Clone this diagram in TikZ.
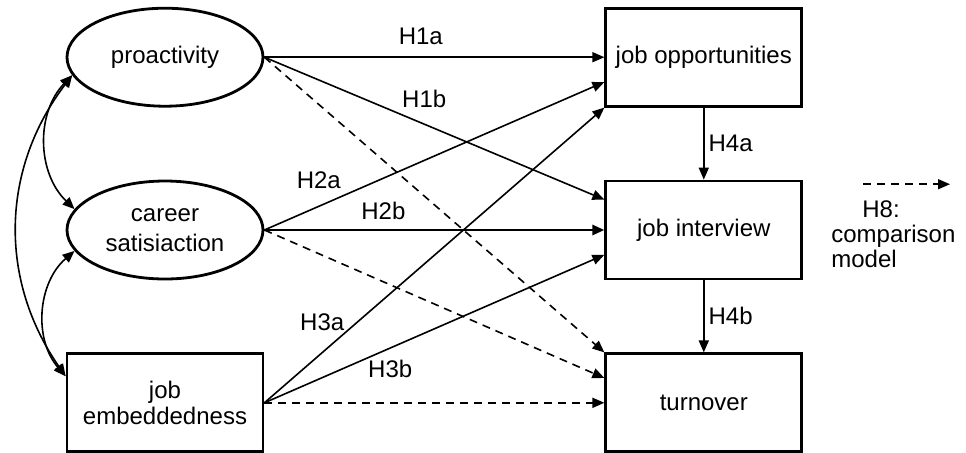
\documentclass[tikz,border=0pt]{standalone}
\usepackage{fontspec}
\setmainfont{Liberation Sans}
\usetikzlibrary{shapes.geometric, arrows.meta, positioning}
\tikzset{
	latent/.style  ={ellipse, draw=black, line width=1.4pt, minimum width=98pt, minimum height=49pt, inner sep=0pt, align=center, font=\fontsize{12}{15}\selectfont},
	observed/.style={rectangle, draw=black, line width=1.4pt, minimum width=98pt, minimum height=49pt, inner sep=0pt, align=center, font=\fontsize{12}{13}\selectfont},
	hyp/.style     ={-{Triangle[length=6pt, width=5pt]}, line width=0.8pt},
	alt/.style     ={hyp, dash pattern=on 4pt off 3pt},
	cov/.style     ={{Triangle[length=6pt, width=5pt]}-{Triangle[length=6pt, width=5pt]}, line width=0.8pt},
	lbl/.style     ={inner sep=1pt, font=\fontsize{12}{14}\selectfont},
}
\begin{document}
\begin{tikzpicture}[font=\fontsize{12}{14}\selectfont, node distance=36pt and 170pt]
	\useasboundingbox (-82.5pt,28.6pt) rectangle (400.5pt,-197.5pt);
	% predictors
	\node[latent] (pro) {proactivity};
	\node[latent, below=of pro] (car) {career\\satisiaction};
	\node[observed, below=of car] (emb) {job\\embeddedness};
	% outcomes
	\node[observed, right=of pro] (opp) {job opportunities};
	\node[observed, right=of car] (int) {job interview};
	\node[observed, right=of emb] (turn) {turnover};
	% hypothesised paths
	\draw[hyp] (pro.east) -- node[lbl, pos=.46, yshift=10.5pt] {H1a} (opp.west);
	\draw[hyp] (pro.east) -- node[lbl, pos=.47, yshift=12.5pt] {H1b} (int.163);
	\draw[alt] (pro.east) -- (turn.north west);
	\draw[hyp] (car.east) -- node[lbl, pos=.16, yshift=12.8pt] {H2a} (opp.194);
	\draw[hyp, line width=1.4pt] (car.east) -- node[lbl, pos=.35, yshift=9.5pt] {H2b} (int.west);
	\draw[alt] (car.east) -- (turn.166);
	\draw[hyp] (emb.east) -- node[lbl, pos=.17, yshift=15pt] {H3a} (opp.south west);
	\draw[hyp] (emb.east) -- node[lbl, pos=.37, yshift=-10.3pt] {H3b} (int.194);
	\draw[alt] (emb.east) -- (turn.west);
	\draw[hyp] (opp) -- node[lbl, right=1pt] {H4a} (int);
	\draw[hyp] (int) -- node[lbl, right=1pt] {H4b} (turn);
	% covariances
	\draw[cov] (pro.191) to[bend right=45] (car.167);
	\draw[cov] (car.193) to[bend right=45] (emb.165);
	\draw[cov] (pro.191) to[bend right=36] (emb.165);
	% legend
	\coordinate (legS) at (349pt,-63.5pt);
	\coordinate (legE) at (392.5pt,-63.5pt);
	\draw[alt] (legS) -- (legE);
	\node[anchor=north west, align=left, inner sep=0pt, font=\fontsize{12}{12.5}\selectfont] (leg) at (333pt,-71.5pt) {\hspace*{15.5pt}H8:\\comparison\\model};
\end{tikzpicture}
\end{document}
